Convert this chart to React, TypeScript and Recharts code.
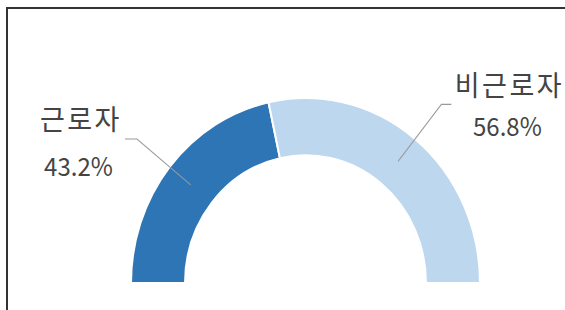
import React from 'react';
import { PieChart, Pie, Cell } from 'recharts';

const categories = ['근로자', '비근로자'];
const shares = [43.2, 56.8];
const colors = ['#2E75B6', '#BDD7EE'];

const data = categories.map((name, i) => ({ name, value: shares[i] }));

const RAD = Math.PI / 180;
const SCALE_Y = 1.06;
const FONT = "'Noto Sans CJK KR', 'Noto Sans', sans-serif";

const renderLabel = (props: any) => {
  const { cx, cy, midAngle, innerRadius, outerRadius, index, name, value } = props;
  const cos = Math.cos(-midAngle * RAD);
  const sin = Math.sin(-midAngle * RAD);
  const midR = (innerRadius + outerRadius) / 2;
  const outR = outerRadius + 42;
  const x0 = cx + midR * cos;
  const y0 = cy + midR * sin;
  const x1 = cx + outR * cos;
  const y1 = cy + outR * sin;
  const left = cos < 0;
  const x2 = x1 + (left ? -12 : 10);
  const nameX = left ? x2 - 44 : x2 + 58;
  const valX = left ? x2 - 46.5 : x2 + 56;
  const valY = left ? y1 + 35 : y1 + 30;
  return (
    <g key={`lbl-${index}`}>
      <polyline
        points={`${x0},${y0} ${x1},${y1} ${x2},${y1}`}
        fill="none"
        stroke="#9a9a9a"
        strokeWidth={1}
      />
      <text x={nameX} y={y1 - 8} textAnchor="middle" fill="#444" fontSize={27} letterSpacing={2.5} fontFamily={FONT}>
        {name}
      </text>
      <text x={valX} y={valY} textAnchor="middle" fill="#444" fontSize={24} fontFamily={FONT}>
        {`${Number(value).toFixed(1)}%`}
      </text>
    </g>
  );
};

export default function App() {
  return (
    <div style={{ position: 'absolute', left: 0, top: 0, width: 565, height: 310, overflow: 'hidden', background: '#fff' }}>
      <div
        style={{
          position: 'absolute',
          left: 6,
          top: 7,
          width: 700,
          height: 400,
          borderTop: '2px solid #333',
          borderLeft: '2px solid #333',
        }}
      />
      <div style={{ position: 'absolute', left: 0, top: 0, transform: `scaleY(${SCALE_Y})`, transformOrigin: '0 0' }}>
        <PieChart width={565} height={292} margin={{ top: 0, right: 0, bottom: 0, left: 0 }}>
          <Pie
            data={data}
            dataKey="value"
            nameKey="name"
            cx={305.5}
            cy={267}
            startAngle={180}
            endAngle={0}
            innerRadius={120.5}
            outerRadius={174.5}
            stroke="#ffffff"
            strokeWidth={2}
            labelLine={false}
            label={renderLabel}
            isAnimationActive={false}
          >
            {data.map((d, i) => (
              <Cell key={d.name} fill={colors[i]} />
            ))}
          </Pie>
        </PieChart>
      </div>
    </div>
  );
}
